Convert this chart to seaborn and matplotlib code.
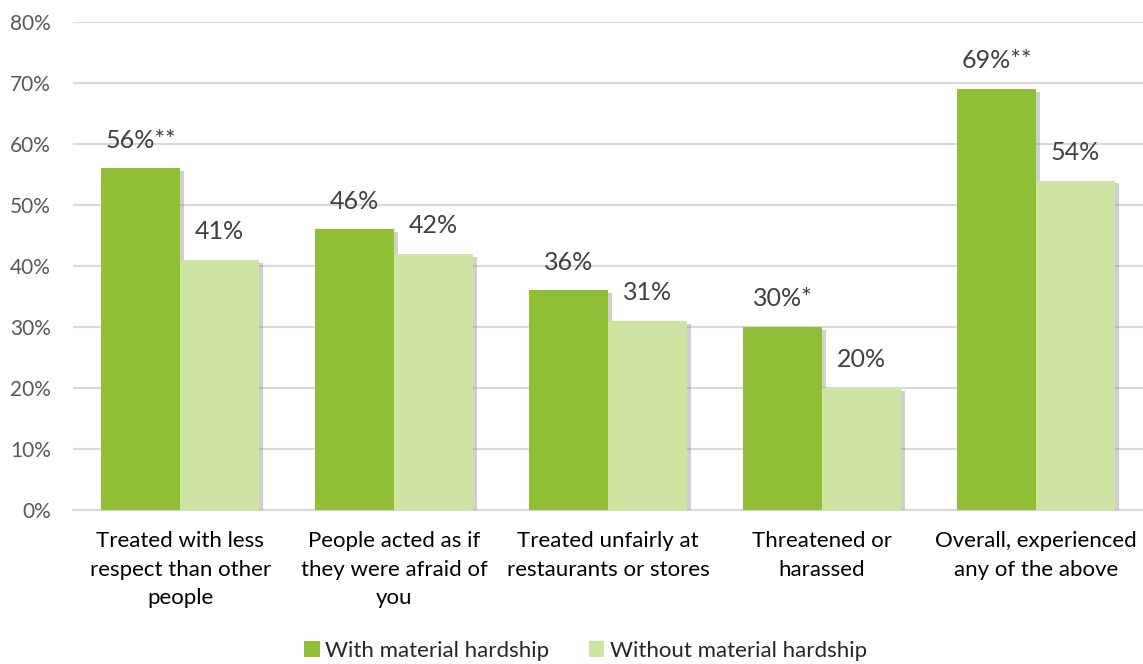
import matplotlib
matplotlib.use("Agg")
import matplotlib.pyplot as plt
import matplotlib.patheffects as pe
import seaborn as sns
import pandas as pd

categories = [
    "Treated with less\nrespect than other\npeople",
    "People acted as if\nthey were afraid of\nyou",
    "Treated unfairly at\nrestaurants or stores",
    "Threatened or\nharassed",
    "Overall, experienced\nany of the above",
]
series_names = ["With material hardship", "Without material hardship"]
with_hardship = [56, 46, 36, 30, 69]
without_hardship = [41, 42, 31, 20, 54]
with_labels = ["56%**", "46%", "36%", "30%*", "69%**"]
without_labels = ["41%", "42%", "31%", "20%", "54%"]
y_ticks = [0, 10, 20, 30, 40, 50, 60, 70, 80]

colors = ["#8FBF35", "#CDE5A0"]

df = pd.DataFrame({
    "category": categories * 2,
    "series": [series_names[0]] * len(categories) + [series_names[1]] * len(categories),
    "value": with_hardship + without_hardship,
})

sns.set_theme(style="white")
plt.rcParams["font.family"] = ["Lato", "DejaVu Sans"]

fig = plt.figure(figsize=(11.43, 6.64), dpi=100)
ax = fig.add_axes([0.064, 0.232, 0.936, 0.735])

sns.barplot(data=df, x="category", y="value", hue="series", hue_order=series_names,
            order=categories, palette=colors, width=0.74, saturation=1,
            edgecolor="none", linewidth=0, ax=ax, legend=True, zorder=3)

shadow = [pe.SimplePatchShadow(offset=(3, -2), shadow_rgbFace=(0.4, 0.4, 0.4), alpha=0.3),
          pe.Normal()]
for cont, labels in zip(ax.containers, [with_labels, without_labels]):
    for bar in cont:
        bar.set_path_effects(shadow)
    ax.bar_label(cont, labels=labels, padding=12, fontsize=18, color="#404040")

ax.set_ylim(0, 80)
ax.set_yticks(y_ticks)
ax.set_yticklabels([f"{t}%" for t in y_ticks], fontsize=15, color="#595959")
ax.set_xlim(-0.5, len(categories) - 0.5)
ax.tick_params(axis="x", labelsize=16, colors="#000000", length=0, pad=15)
ax.tick_params(axis="y", length=0, pad=16)
for lab in ax.get_xticklabels():
    lab.set_linespacing(1.55)
for lab in ax.get_yticklabels():
    lab.set_horizontalalignment("right")
ax.set_xlabel("")
ax.set_ylabel("")
ax.yaxis.grid(True, color="#D9D9D9", linewidth=1.5, zorder=0)
ax.set_axisbelow(True)
for side in ["left", "right", "top"]:
    ax.spines[side].set_visible(False)
ax.spines["bottom"].set_color("#D9D9D9")
ax.spines["bottom"].set_linewidth(1.5)

handles, lbls = ax.get_legend_handles_labels()
ax.legend(handles, lbls, loc="center", bbox_to_anchor=(0.479, -0.289), ncol=2,
          frameon=False, fontsize=16, handlelength=0.7, handleheight=0.7,
          handletextpad=0.25, columnspacing=1.77)

fig.savefig("out.png", dpi=100)
